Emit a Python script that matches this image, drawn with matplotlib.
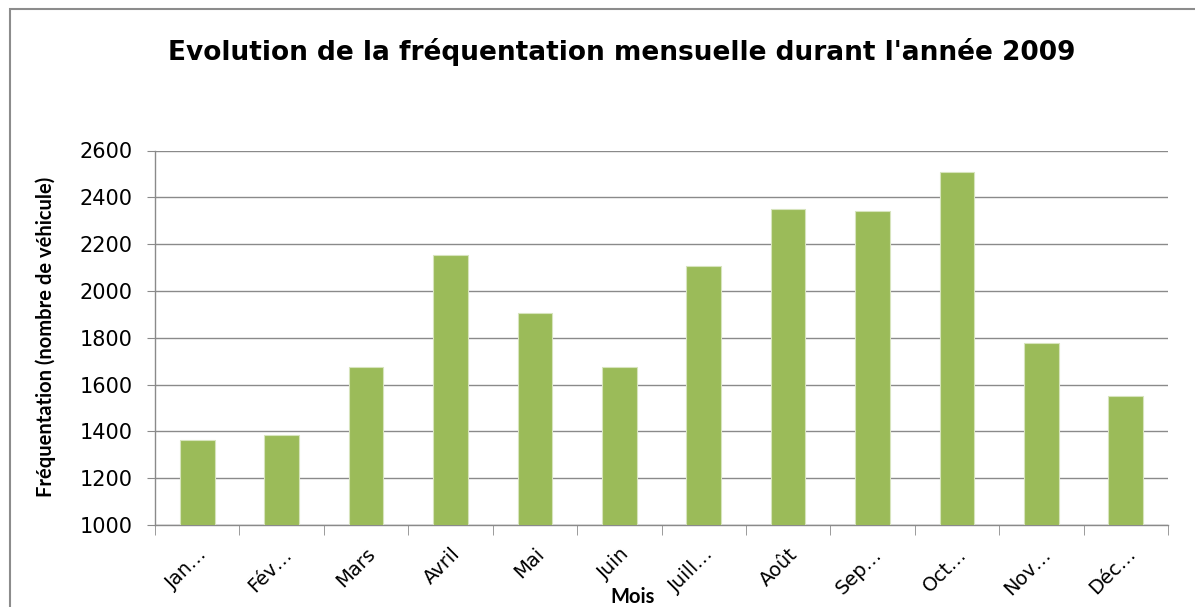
import numpy as np
import matplotlib
matplotlib.use("Agg")
import matplotlib.pyplot as plt
import matplotlib.transforms as mtransforms
from matplotlib.patches import Rectangle

months = ["Jan…", "Fév…", "Mars", "Avril", "Mai", "Juin",
          "Juill…", "Août", "Sep…", "Oct…", "Nov…", "Déc…"]
visits = [1362, 1385, 1675, 2155, 1907, 1675,
          2105, 2350, 2340, 2510, 1777, 1550]
yticks = [1000, 1200, 1400, 1600, 1800, 2000, 2200, 2400, 2600]

W, H = 1195, 607
fig = plt.figure(figsize=(W / 100, H / 100), dpi=100)
fig.patch.set_facecolor("white")

# outer chart frame (cut off at right and bottom like the screenshot)
fig.patches.append(Rectangle((10 / W, -0.05), 1.2, 1 - 9 / H + 0.05,
                             transform=fig.transFigure, fill=False,
                             edgecolor="#8c8c8c", linewidth=1.5))

ax = fig.add_axes([155 / W, 1 - 525 / H, (1168 - 155) / W, (525 - 150.5) / H])
x = np.arange(len(months))
ax.bar(x, visits, width=0.41, color="#9bbb59", edgecolor="#d7e4bd",
       linewidth=0.8, zorder=3)
ax.set_ylim(1000, 2600)
ax.set_xlim(-0.5, len(months) - 0.5)
ax.set_yticks(yticks)
ax.grid(axis="y", color="#8a8a8a", linewidth=1, zorder=0)

for s in ["top", "right"]:
    ax.spines[s].set_visible(False)
for s in ["left", "bottom"]:
    ax.spines[s].set_color("#8a8a8a")
    ax.spines[s].set_linewidth(1)

ax.set_xticks(x)
ax.set_xticklabels(months, rotation=45, ha="right", va="top",
                   rotation_mode="anchor", fontsize=14, family="DejaVu Sans")
shift = mtransforms.ScaledTranslation(10 / 100, 0, fig.dpi_scale_trans)
for lab in ax.get_xticklabels():
    lab.set_transform(lab.get_transform() + shift)
ax.set_xticks(np.arange(-0.5, len(months)), minor=True)
ax.tick_params(axis="x", which="major", length=0, pad=14)
ax.tick_params(axis="x", which="minor", length=7, color="#8a8a8a")
ax.tick_params(axis="y", length=6, color="#8a8a8a", labelsize=15, pad=10)
for lab in ax.get_yticklabels():
    lab.set_family("DejaVu Sans")

fig.text(622 / W, 1 - 52 / H, "Evolution de la fréquentation mensuelle durant l'année 2009",
         ha="center", va="center", fontsize=19, fontweight="bold", family="DejaVu Sans")
fig.text(46 / W, 1 - 337 / H, "Fréquentation (nombre de véhicule)", rotation=90,
         ha="center", va="center", fontsize=14.5, fontweight="bold", family="Lato")
fig.text(633 / W, 1 - 597 / H, "Mois", ha="center", va="center",
         fontsize=14.5, fontweight="bold", family="Lato")

fig.savefig("out.png", dpi=100)
